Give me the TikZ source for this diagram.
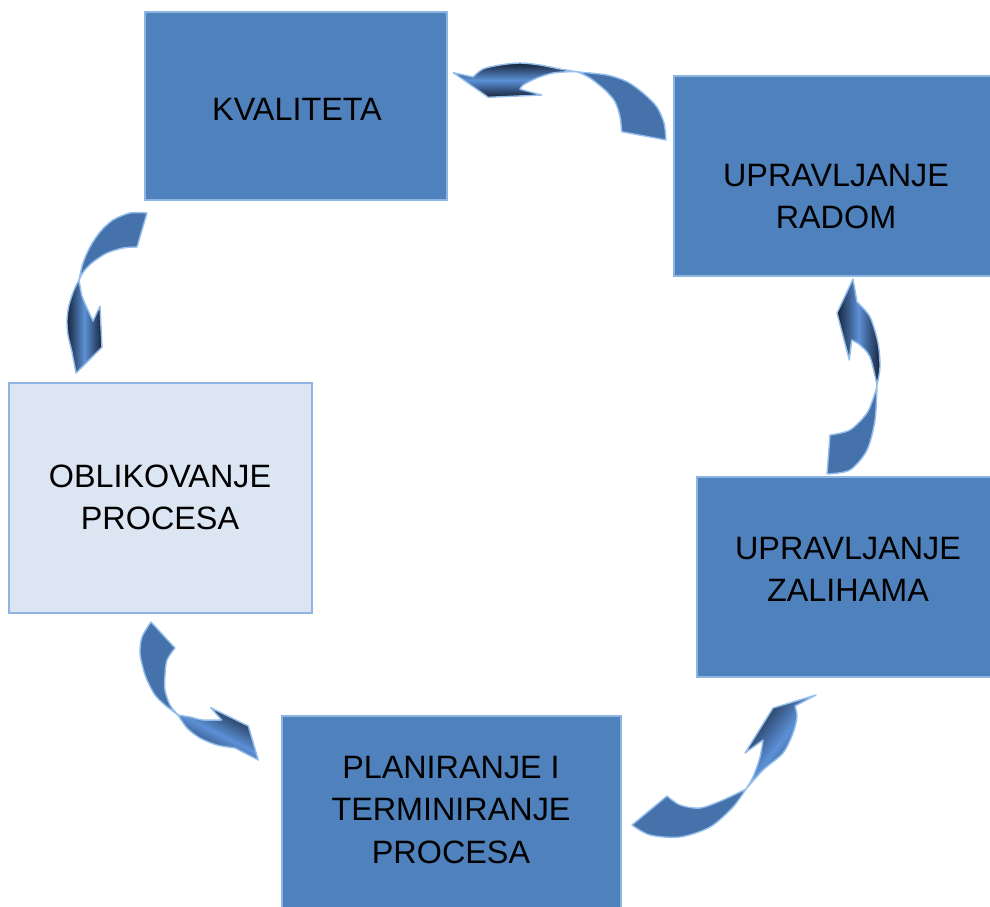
\documentclass[tikz,border=0pt]{standalone}
\usepackage{fontspec}
\setmainfont{Liberation Sans}
\usepackage{tikz}

\definecolor{boxblue}{RGB}{79,129,189}
\definecolor{boxedge}{RGB}{141,180,226}
\definecolor{paleblue}{RGB}{220,230,242}
\definecolor{tailblue}{RGB}{70,114,172}
\definecolor{arrowedge}{RGB}{150,190,235}
\definecolor{arrowdark}{RGB}{22,36,58}
\definecolor{arrowlight}{RGB}{92,144,214}

\tikzset{
	box/.style={draw=boxedge, line width=1.4pt, fill=boxblue, inner sep=0pt},
	lbl/.style={font=\fontsize{23}{30}\selectfont, align=center, inner sep=0pt},
	tailpart/.style={draw=arrowedge, line width=1pt, fill=tailblue, line join=round},
	headpart/.style={draw=arrowedge, line width=1pt, line join=round,
		top color=arrowdark, bottom color=arrowdark, middle color=arrowlight},
}

\begin{document}
\begin{tikzpicture}[x=0.025cm, y=-0.025cm]
	\useasboundingbox (0,0) rectangle (990,906);
	\clip (0,0) rectangle (990,906);
	%\draw[help lines] (0,0) grid[step=100] (990,906);
	% boxes
	\node[box, minimum width=7.55cm, minimum height=4.7cm] (kvaliteta) at (296,106) {};
	\node[box, minimum width=8.15cm, minimum height=5cm] (radom) at (837,176) {};
	\node[box, fill=paleblue, minimum width=7.575cm, minimum height=5.75cm] (oblikovanje) at (160.5,498) {};
	\node[box, minimum width=7.575cm, minimum height=5cm] (zalihe) at (848.5,577) {};
	\node[box, minimum width=8.475cm, minimum height=5.1cm] (planiranje) at (451.5,818) {};
	% radom -> kvaliteta
	\filldraw[tailpart] (621.7,131.7) -- (666,140)
		-- plot[smooth] coordinates {(666,140) (664,123) (656.7,106.7) (643,93) (627,81.7) (606.7,75) (578,72)}
		-- plot[smooth] coordinates {(578,72) (590,78) (605,90) (615,101.7) (620,116.7) (621.7,131.7)} -- cycle;
	\shadedraw[headpart, shading angle=0] (578,72)
		-- plot[smooth] coordinates {(578,72) (560,69) (540,65) (520,63) (500,65) (483,69) (473,77)}
		-- (453.3,72.7) -- (488.3,97.3) -- (541.7,95) -- (520,89.3)
		-- plot[smooth] coordinates {(520,89.3) (523,85) (537,78) (553,73) (570,71.7) (578,72)} -- cycle;
	% kvaliteta -> oblikovanje
	\filldraw[tailpart] (147,213) -- (137,247)
		-- plot[smooth] coordinates {(137,247) (123,248) (107,253) (93,262) (84,271) (79,280)}
		-- plot[smooth] coordinates {(79,280) (83,263) (90,247) (100,232) (113,220) (130,213) (147,213)} -- cycle;
	\shadedraw[headpart, shading angle=90] (79,280)
		-- plot[smooth] coordinates {(79,280) (74,290) (69,305) (67,320) (68,335) (72,352)}
		-- (76,373) -- (102,347) -- (100,306) -- (93,321)
		-- plot[smooth] coordinates {(93,321) (87,308) (82,296) (79,280)} -- cycle;
	% oblikovanje -> planiranje
	\filldraw[tailpart] (151,622) -- (175,648)
		-- plot[smooth] coordinates {(175,648) (167,660) (165,675) (165,690) (170,705) (178,715)}
		-- plot[smooth] coordinates {(178,715) (165,705) (155,695) (147,680) (143,668) (140,653) (142,637) (151,622)} -- cycle;
	\shadedraw[headpart, shading angle=-27] (178,715)
		-- plot[smooth] coordinates {(178,715) (187,728) (200,738) (217,745) (235,748)}
		-- (258.3,760) -- (248.3,726) -- (210.7,707.7) -- (221.7,720)
		-- plot[smooth] coordinates {(221.7,720) (203,720) (190,717) (178,715)} -- cycle;
	% planiranje -> zalihe
	\filldraw[tailpart] (632,825) -- (667,796)
		-- plot[smooth] coordinates {(667,796) (680,805) (700,808) (723,800) (746,789)}
		-- plot[smooth] coordinates {(746,789) (733,807) (710,827) (680,837) (650,835) (632,825)} -- cycle;
	\shadedraw[headpart, shading angle=53] (746,789)
		-- plot[smooth] coordinates {(746,789) (763,770) (783,753) (793,733) (797,717) (795,706)}
		-- (816,695) -- (773,708) -- (745,753) -- (763,740)
		-- plot[smooth] coordinates {(763,740) (760,757) (753,777) (746,789)} -- cycle;
	% zalihe -> radom
	\filldraw[tailpart] (827,474) -- (830,435)
		-- plot[smooth] coordinates {(830,435) (850,430) (867,413) (875,393) (877,385)}
		-- plot[smooth] coordinates {(877,385) (875,420) (867,450) (850,470) (827,474)} -- cycle;
	\shadedraw[headpart, shading angle=90] (877,385)
		-- plot[smooth] coordinates {(877,385) (880,367) (878,343) (870,317) (857,302)}
		-- (853,279) -- (837,313) -- (849.3,360) -- (851.7,340)
		-- plot[smooth] coordinates {(851.7,340) (860,345) (870,357) (877,385)} -- cycle;
	% texts
	\node[lbl] (kvalitetaT) at (297,109.5) {KVALITETA};
	\node[lbl] (radomT) at (836,196.5) {UPRAVLJANJE\\RADOM};
	\node[lbl] (oblikovanjeT) at (160,497.5) {OBLIKOVANJE\\PROCESA};
	\node[lbl] (zaliheT) at (848,569.5) {UPRAVLJANJE\\ZALIHAMA};
	\node[lbl] (planiranjeT) at (451,810) {PLANIRANJE I\\TERMINIRANJE\\PROCESA};
\end{tikzpicture}
\end{document}
